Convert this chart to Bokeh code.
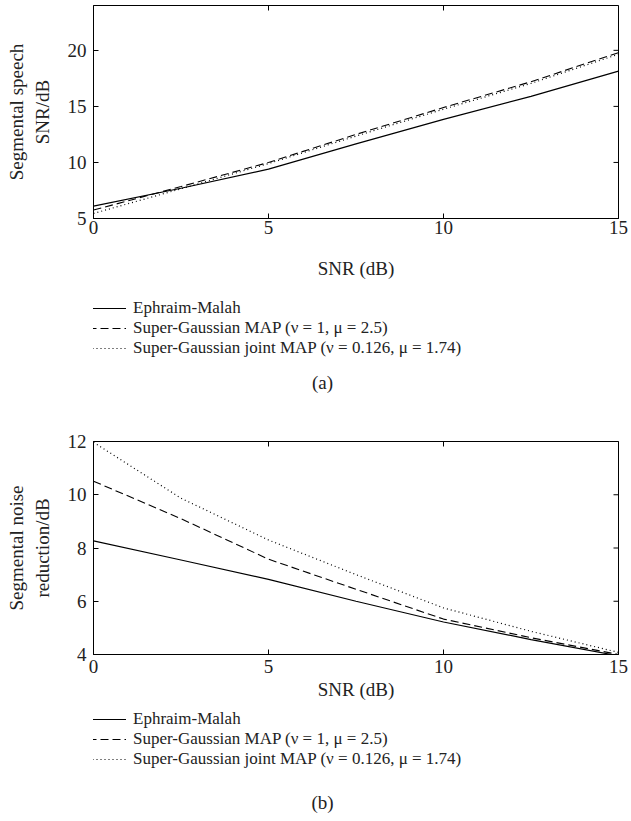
from bokeh.plotting import figure
from bokeh.models import Legend, LegendItem, Label, FixedTicker, Range1d
from bokeh.layouts import column
from bokeh.embed import file_html
from bokeh.resources import INLINE
import math

snr = [0, 2.5, 5, 7.5, 10, 12.5, 15]

# (a) Segmental speech SNR/dB
a_em = [6.1, 7.7, 9.4, 11.65, 13.84, 15.9, 18.15]
a_sg_map = [5.75, 7.85, 10.0, 12.5, 14.9, 17.2, 19.8]
a_sg_joint = [5.45, 7.65, 9.9, 12.35, 14.75, 17.05, 19.65]

# (b) Segmental noise reduction/dB
b_em = [8.27, 7.55, 6.82, 6.0, 5.22, 4.56, 3.95]
b_sg_map = [10.51, 9.1, 7.58, 6.45, 5.33, 4.63, 4.0]
b_sg_joint = [11.97, 9.87, 8.3, 7.0, 5.75, 4.87, 4.08]

x_ticks = [0, 5, 10, 15]
a_yticks = [5, 10, 15, 20]
b_yticks = [4, 6, 8, 10, 12]

labels = ["Ephraim-Malah",
          "Super-Gaussian MAP (\u03bd = 1, \u03bc = 2.5)",
          "Super-Gaussian joint MAP (\u03bd = 0.126, \u03bc = 1.74)"]

FONT = "Liberation Serif"
FS = "19px"
LFS = "17px"
TXT = "#222222"
STYLES = [dict(line_width=1.2), dict(line_width=1.1, line_dash="8 4"),
          dict(line_width=1.2, line_dash="1 3")]


def make_plot(series, yr, yticks, ylabel, top_border, bottom_border,
              tick_standoff, xlabel_standoff):
    p = figure(frame_width=525, frame_height=213, x_range=Range1d(0, 15),
               y_range=Range1d(*yr), output_backend="svg", toolbar_location=None,
               min_border_left=93, min_border_right=13, min_border_top=top_border,
               min_border_bottom=bottom_border)
    p.grid.visible = False
    p.outline_line_color = "black"
    p.outline_line_width = 1
    p.xaxis.ticker = FixedTicker(ticks=x_ticks)
    p.yaxis.ticker = FixedTicker(ticks=yticks)
    for ax in (p.xaxis[0], p.yaxis[0]):
        ax.major_tick_in = 5
        ax.major_tick_out = 0
        ax.minor_tick_line_color = None
        ax.axis_line_color = "black"
        ax.major_label_text_font = FONT
        ax.major_label_text_font_size = FS
        ax.major_label_text_color = TXT
        ax.axis_label_text_font = FONT
        ax.axis_label_text_font_size = FS
        ax.axis_label_text_font_style = "normal"
        ax.axis_label_text_color = TXT
    p.xaxis.axis_label = "SNR (dB)"
    p.xaxis.major_label_standoff = tick_standoff
    p.xaxis.axis_label_standoff = xlabel_standoff
    p.yaxis.axis_label = ylabel
    p.yaxis.major_label_standoff = 7
    p.yaxis.axis_label_standoff = 12
    # inward ticks on the top and right edges
    p.scatter(x=x_ticks, y=[yr[1]] * len(x_ticks), marker="dash", size=10,
              angle=math.pi / 2, line_color="black", line_width=1)
    p.scatter(x=[15] * len(yticks), y=yticks, marker="dash", size=10,
              line_color="black", line_width=1)
    for s, st in zip(series, STYLES):
        p.line(snr, s, line_color="black", **st)
    return p


def make_legend(series, height, row_y, tag, tag_y):
    f = figure(width=631, height=height, x_range=Range1d(0, 1), y_range=Range1d(0, 1),
               output_backend="svg", toolbar_location=None, min_border=0,
               x_axis_location=None, y_axis_location=None)
    f.grid.visible = False
    f.outline_line_color = None
    for lab, s, st, y in zip(labels, series, STYLES, row_y):
        r = f.line(x=snr, y=s, line_color="black", visible=False, **st)
        legend = Legend(items=[LegendItem(label=lab, renderers=[r])],
                        location=(-5, y), orientation="vertical",
                        border_line_color=None, background_fill_alpha=0,
                        label_text_font=FONT, label_text_font_size=LFS,
                        label_text_color=TXT,
                        glyph_width=38, glyph_height=18, label_height=18,
                        label_standoff=7, spacing=0, padding=0, margin=0)
        f.add_layout(legend, "center")
    f.add_layout(Label(x=229, y=tag_y, x_units="screen", y_units="screen",
                       text=tag, text_align="center", text_baseline="middle",
                       text_font=FONT, text_font_size=FS, text_color=TXT))
    return f


sa = [a_em, a_sg_map, a_sg_joint]
sb = [b_em, b_sg_map, b_sg_joint]
pa = make_plot(sa, (5, 24), a_yticks, "Segmental speech\nSNR/dB", 5, 70, 2, 21)
la = make_legend(sa, 122, [92, 72, 52], "(a)", 28)
pb = make_plot(sb, (4, 12), b_yticks, "Segmental noise\nreduction/dB", 31, 46, 5, 3)
lb = make_legend(sb, 121, [94, 74, 54], "(b)", 21)

layout = column(pa, la, pb, lb, spacing=0)
open("out.html", "w").write(file_html(layout, INLINE))
